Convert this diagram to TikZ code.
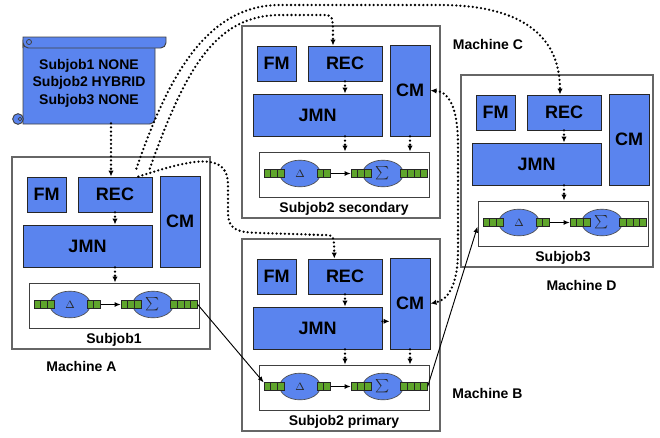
\documentclass[tikz,border=0pt]{standalone}
\usepackage{fontspec}
\setmainfont{Liberation Sans}
\usetikzlibrary{shapes.geometric,arrows.meta}
\definecolor{partblue}{HTML}{5A84EE}
\definecolor{queuegreen}{HTML}{5FA52C}
\tikzset{
    machine/.style={draw=black!60, line width=1pt, inner sep=0pt},
    part/.style={draw=black!85, fill=partblue, line width=0.7pt, inner sep=0pt,
        font=\bfseries\fontsize{13.5}{13.5}\selectfont},
    jobbox/.style={draw=black!75, fill=white, line width=0.7pt, inner sep=0pt},
    stage/.style={ellipse, draw=black!70, fill=partblue, line width=0.5pt, inner sep=0pt,
        minimum width=30.5pt, minimum height=20pt, text=black!85,
        font=\fontsize{8}{8}\selectfont},
    queue/.style={draw=black!85, fill=queuegreen, line width=0.5pt, inner sep=0pt,
        minimum height=5.6pt,
        path picture={\foreach \k in {1,2,3}
            \draw[black!85, line width=0.5pt] ([xshift=\k*5pt]path picture bounding box.north west)
                -- ([xshift=\k*5pt]path picture bounding box.south west);}},
    scroll/.style={fill=partblue, draw=black!75, line width=0.7pt},
    ctl/.style={->, line width=1.9pt, line cap=round, dash pattern=on 0pt off 3.1pt},
    data/.style={->, >={Latex[length=4.5pt,width=3.6pt]}, line width=0.7pt},
    lbl/.style={font=\bfseries\fontsize{10.5}{10.5}\selectfont},
}
\begin{document}
\begin{tikzpicture}[x=0.75pt, y=-0.75pt, >={Latex[length=4.5pt,width=4pt]}]
    \useasboundingbox (0,0) rectangle (660,437);
    %\draw[loosely dotted] (0,0) grid[step=20] (660,437);

    % the scroll
    \filldraw[scroll] (23,40) -- (23,124) -- (150,124) [rounded corners=4pt] -- (155,124)
        [sharp corners] -- (155,46) -- cycle;
    \filldraw[scroll] (23,48) -- (23,37) -- (166,37) [rounded corners=4pt] -- (166,48)
        -- (23,48) [sharp corners] -- cycle;
    \draw[black!75, line width=0.6pt] (29,42) circle (1.9pt);
    \filldraw[scroll] (18,119) circle (4pt);
    \draw[black!75, line width=0.6pt] (20,119) circle (1.4pt);
    \node[lbl, align=center, font=\bfseries\fontsize{10.5}{13.1}\selectfont,
        minimum width=99pt, minimum height=60pt, inner sep=0pt] (note) at (89,83)
        {Subjob1 NONE\\Subjob2 HYBRID\\Subjob3 NONE};

    % the four machines
    \foreach \m/\bx/\by/\bw/\job in {A/12/157/198/Subjob1, C/242/26/198/Subjob2 secondary,
        B/242/239/198/Subjob2 primary, D/461/75/192/Subjob3}
    {
    \node[machine, minimum width=\bw*0.75pt, minimum height=144pt] (\m-box)
        at ({\bx+\bw/2},{\by+96}) {};
    \node[part, minimum width=29.25pt, minimum height=26.25pt] (\m-fm) at ({\bx+34.5},{\by+37.5}) {FM};
    \node[part, minimum width=55.5pt, minimum height=26.25pt] (\m-rec) at ({\bx+103},{\by+37.5}) {REC};
    \node[part, minimum width=30pt, minimum height=68.25pt] (\m-cm) at ({\bx+168},{\by+64.5}) {CM};
    \node[part, minimum width=96.75pt, minimum height=31.5pt] (\m-jmn) at ({\bx+75.5},{\by+89}) {JMN};
    \node[jobbox, minimum width=127.5pt, minimum height=33.75pt] (\m-in) at ({\bx+102},{\by+148.5}) {};
    \node[lbl] (\m-job) at ({\bx+102},{\by+183}) {\job};
    \node[stage] (\m-d) at ({\bx+58},{\by+147.5}) {$\Delta$};
    \node[stage] (\m-s) at ({\bx+141},{\by+147.5}) {$\sum$};
    \node[queue, minimum width=15pt] (\m-q1) at ({\bx+32},{\by+147.5}) {};
    \node[queue, minimum width=10pt] (\m-q2) at ({\bx+81.5},{\by+147.5}) {};
    \node[queue, minimum width=15pt] (\m-q3) at ({\bx+119},{\by+147.5}) {};
    \node[queue, minimum width=20pt] (\m-q4) at ({\bx+172},{\by+147.5}) {};
    \draw[data] (\m-q2) -- (\m-q3);
    \draw[ctl] (\m-rec.south) -- (\m-rec.south |- \m-jmn.north);
    \draw[ctl] (\m-rec.south |- \m-jmn.south) -- (\m-rec.south |- \m-in.north);
    }

    \node[lbl] (labA) at (81.5,366) {Machine A};
    \node[lbl] (labB) at (487.5,393) {Machine B};
    \node[lbl] (labC) at (488,44) {Machine C};
    \node[lbl] (labD) at (581.5,285) {Machine D};

    \draw[ctl] (C-cm.south) -- (C-cm.south |- C-in.north);
    \draw[ctl] (B-cm.south) -- (B-cm.south |- B-in.north);
    \draw[ctl] ([yshift=5pt]B-jmn.east) -- ([yshift=5pt]B-jmn.east -| B-cm.west);

    \draw[ctl] ([xshift=-3pt]A-rec.north |- note.south) -- ([xshift=-3pt]A-rec.north);
    \draw[ctl] ([xshift=-2pt,yshift=6pt]A-rec.north east) .. controls (185,70) and (215,15) .. (280,15)
        -- (322,15) .. controls (333,15) .. ([xshift=-9pt]C-rec.north);
    \draw[ctl] ([xshift=-12pt,yshift=6pt]A-rec.north east) .. controls (170,70) and (210,5) .. (280,5)
        -- (440,5) .. controls (520,5) and (560,35) .. ([xshift=-3pt]D-rec.north);
    \draw[ctl] ([xshift=-10.5pt]A-rec.north east) .. controls (190,160) and (228,150) .. (228,185)
        -- (228,212) .. controls (228,232) and (240,232) .. (260,233)
        -- (322,235) .. controls (334,235) .. ([xshift=-8pt]B-rec.north);
    \draw[ctl, <->] (C-cm.east) .. controls (452,92) and (458,115) .. (458,145)
        -- (458,250) .. controls (458,285) and (448,300) .. (B-cm.east);

    \draw[data] (A-q4.east) -- (B-q1.north west);
    \draw[data] (B-q4.east) -- (D-in.west |- D-q1.south);
\end{tikzpicture}
\end{document}
